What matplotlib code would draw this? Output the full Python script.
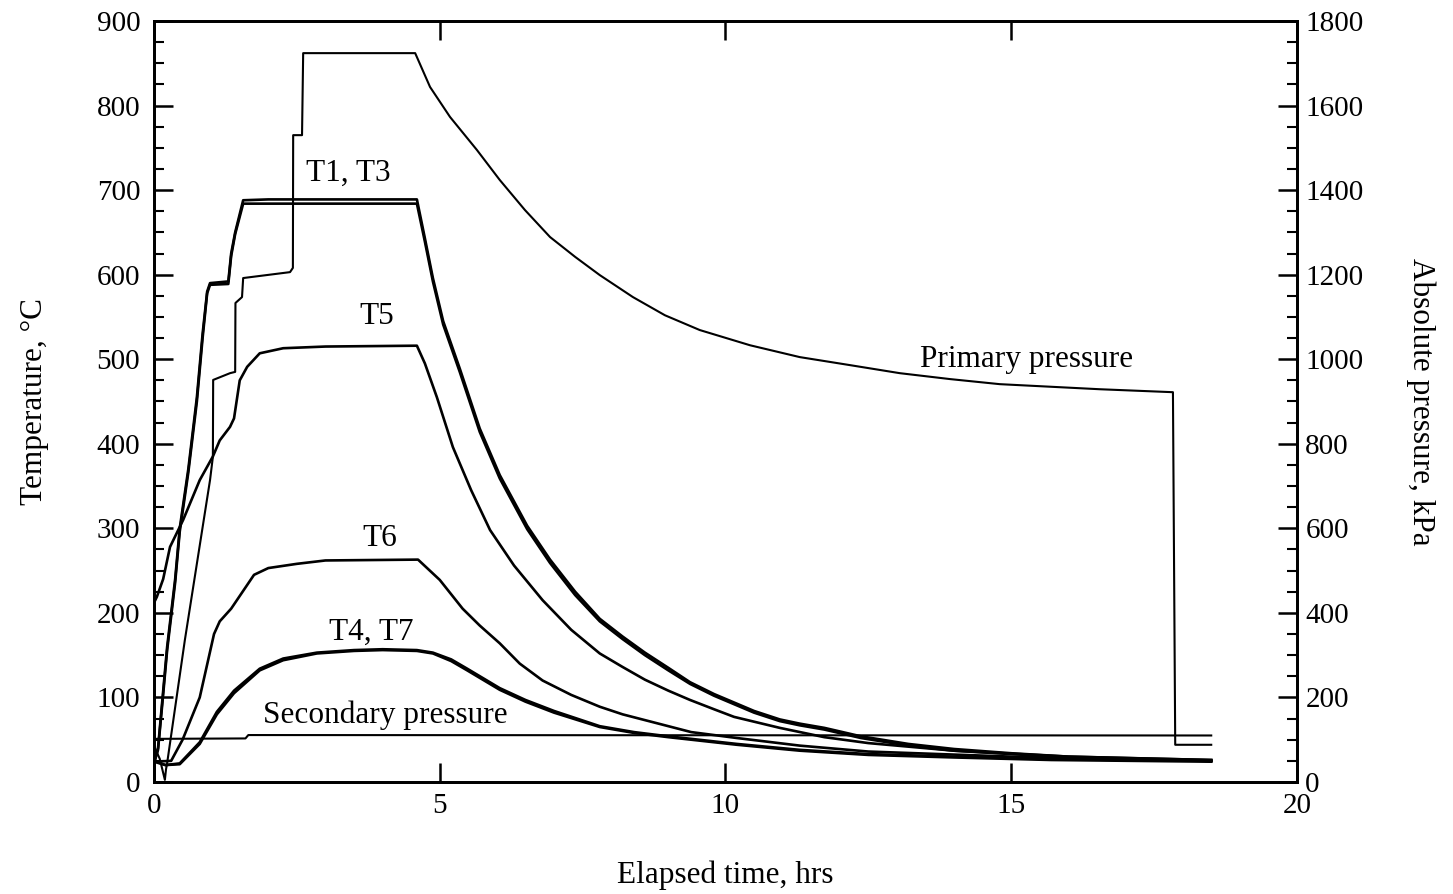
import matplotlib.pyplot as plt
from matplotlib.ticker import MultipleLocator

plt.rcParams["font.family"] = ["Liberation Serif", "DejaVu Serif"]

# temperatures, deg C
t_13 = [0, 0.07, 0.15, 0.23, 0.37, 0.45, 0.6, 0.75, 0.85, 0.93, 0.98, 1.3, 1.35, 1.42,
        1.56, 2.0, 3.0, 4.6, 4.74, 4.88, 5.06, 5.35, 5.7, 6.05, 6.53, 6.93, 7.37, 7.8,
        8.2, 8.59, 9.0, 9.38, 9.8, 10.15, 10.5, 10.95, 11.3, 11.73, 12.37, 13.2, 14.0,
        15.0, 16.0, 17.2, 18.5]
T1 = [22, 40, 100, 160, 240, 300, 370, 455, 530, 580, 590, 592, 625, 650,
      688, 689, 689, 689, 643, 596, 545, 489, 418, 363, 303, 263, 225, 193,
      172, 153, 135, 118, 104, 94, 84, 74, 69, 64, 54, 45, 39,
      34, 30, 28, 26]
T3 = [22, 38, 96, 156, 236, 296, 366, 450, 525, 578, 588, 589, 622, 648,
      684, 684, 684, 684, 639, 592, 541, 485, 414, 359, 299, 259, 221, 190,
      169, 150, 132, 116, 102, 92, 82, 72, 67, 62, 52, 43, 37,
      33, 29, 27, 25]

t_5 = [0, 0.05, 0.16, 0.28, 0.51, 0.8, 1.03, 1.15, 1.33, 1.4, 1.5, 1.63, 1.85, 2.26,
       3.0, 4.6, 4.74, 4.95, 5.23, 5.55, 5.88, 6.3, 6.8, 7.3, 7.8, 8.2, 8.59, 9.0,
       9.38, 9.8, 10.15, 10.95, 11.73, 12.5, 14.0, 16.0, 18.5]
T5 = [212, 219, 240, 278, 310, 357, 385, 404, 420, 430, 475, 491, 507, 513,
      515, 516, 495, 455, 396, 345, 298, 256, 215, 180, 152, 136, 121, 108,
      97, 86, 77, 64, 53, 46, 37, 30, 26]

t_6 = [0, 0.3, 0.5, 0.8, 1.05, 1.15, 1.35, 1.55, 1.75, 2.0, 2.5, 3.0, 4.62, 5.0,
       5.4, 5.7, 6.05, 6.4, 6.8, 7.3, 7.8, 8.2, 8.6, 9.4, 10.2, 11.3, 12.5, 15.0, 18.5]
T6 = [24, 25, 50, 100, 175, 190, 205, 225, 245, 253, 258, 262, 263, 239,
      205, 185, 164, 140, 120, 103, 89, 80, 73, 59, 52, 43, 36, 30, 25]

t_47 = [0, 0.2, 0.45, 0.8, 1.1, 1.4, 1.85, 2.26, 2.85, 3.5, 4.0, 4.6, 4.88, 5.2,
        5.48, 6.05, 6.5, 7.0, 7.8, 8.4, 9.0, 10.2, 11.3, 12.5, 14.0, 15.7, 18.5]
T4 = [25, 20, 21, 45, 80, 105, 132, 144, 152, 155, 156, 155, 152, 143,
      132, 109, 95, 82, 65, 58, 53, 44, 37, 32, 29, 26, 24]
T7 = [24, 20, 22, 47, 83, 108, 134, 146, 153, 156, 157, 156, 153, 145,
      134, 111, 97, 84, 66, 59, 54, 45, 38, 33, 30, 27, 25]

# pressures, kPa
t_pp = [0, 0.1, 0.19, 0.21, 0.23, 0.54, 0.98, 1.03, 1.035, 1.33, 1.42, 1.425, 1.54,
        1.56, 2.38, 2.43, 2.435, 2.59, 2.61, 4.57, 4.83, 5.18, 5.65, 6.05, 6.49,
        6.93, 7.37, 7.8, 8.38, 8.94, 9.55, 10.43, 11.3, 12.18, 13.05, 13.93, 14.8,
        16.55, 17.83, 17.87, 18.5]
P_primary = [85, 55, 5, 30, 45, 336, 714, 769, 951, 967, 970, 1133, 1147,
             1192, 1206, 1216, 1530, 1530, 1724, 1724, 1644, 1573, 1495, 1424, 1353,
             1289, 1242, 1199, 1147, 1104, 1069, 1033, 1005, 986, 967, 953, 941,
             929, 922, 88, 88]

t_sp = [0, 1.6, 1.65, 18.5]
P_secondary = [102, 103, 111, 110]

labels = [("T1, T3", 3.4, 703), ("T5", 3.9, 533), ("T6", 3.95, 271),
          ("T4, T7", 3.8, 160), ("Secondary pressure", 4.05, 62)]

fig = plt.figure(figsize=(14.53, 8.94), dpi=100)
ax = fig.add_axes([0.106, 0.1253, 0.7866, 0.8512])
ax2 = ax.twinx()

lw = 1.9
for tt, yy in [(t_13, T1), (t_13, T3), (t_5, T5), (t_6, T6), (t_47, T4), (t_47, T7)]:
    ax.plot(tt, yy, color="black", lw=lw)

ax2.plot(t_pp, P_primary, color="black", lw=1.5)
ax2.plot(t_sp, P_secondary, color="black", lw=1.5)

for txt, x, y in labels:
    ax.text(x, y, txt, fontsize=22.5, ha="center", va="bottom")
ax2.text(15.26, 965, "Primary pressure", fontsize=22.5, ha="center", va="bottom")

ax.set_xlim(0, 20)
ax.set_ylim(0, 900)
ax2.set_ylim(0, 1800)

ax.xaxis.set_major_locator(MultipleLocator(5))
ax.yaxis.set_major_locator(MultipleLocator(100))
ax.yaxis.set_minor_locator(MultipleLocator(25))
ax2.yaxis.set_major_locator(MultipleLocator(200))
ax2.yaxis.set_minor_locator(MultipleLocator(50))

ax.tick_params(axis="both", which="major", direction="in", length=14, width=1.8,
               labelsize=21, top=True)
ax.tick_params(axis="y", which="minor", direction="in", length=7, width=1.5)
ax.tick_params(axis="y", which="major", pad=10)
ax.tick_params(axis="x", pad=8)
ax2.tick_params(axis="y", which="major", direction="in", length=14, width=1.8,
                labelsize=21, pad=6)
ax2.tick_params(axis="y", which="minor", direction="in", length=7, width=1.5)

for a in (ax, ax2):
    for s in a.spines.values():
        s.set_linewidth(2)

ax.set_xlabel("Elapsed time, hrs", fontsize=22.5, labelpad=30)
ax.set_ylabel("Temperature, \u00b0C", fontsize=22.5, labelpad=34)
ax2.set_ylabel("Absolute pressure, kPa", fontsize=22.5, rotation=270, labelpad=52)

fig.savefig("out.png", dpi=100)
